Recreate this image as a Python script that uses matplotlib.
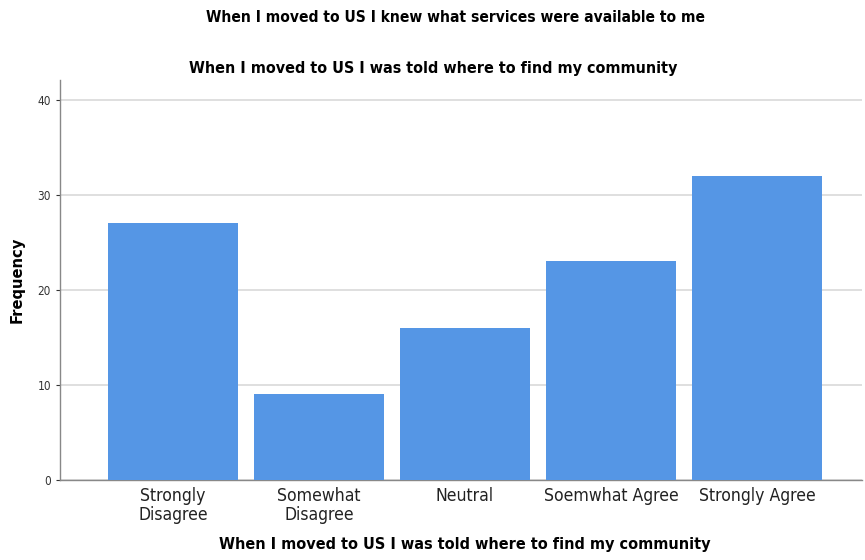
import matplotlib.pyplot as plt

categories = ['Strongly\nDisagree', 'Somewhat\nDisagree', 'Neutral', 'Soemwhat Agree', 'Strongly Agree']
frequency = [27, 9, 16, 23, 32]
yticks = [0, 10, 20, 30, 40]

plt.rcParams['font.family'] = ['DejaVu Sans']
plt.rcParams['font.stretch'] = 'condensed'

fig = plt.figure(figsize=(8.65, 5.6), dpi=100)
ax = fig.add_axes([60 / 865, 80 / 560, 802 / 865, 400 / 560])

x = list(range(len(categories)))
ax.bar(x, frequency, width=0.89, color='#5596e5', zorder=3)

ax.set_xlim(-0.774, 4.72)
ax.set_ylim(0, 42.1)
ax.set_yticks(yticks)
ax.set_xticks(x)
ax.set_xticklabels(categories, fontsize=12.6, color='#222222', linespacing=1.05)
ax.tick_params(axis='x', length=0, pad=5)
ax.tick_params(axis='y', labelsize=8.5, colors='#333333', length=3, width=0.8)
ax.yaxis.grid(True, color='#d9d9d9', linewidth=1.2, zorder=0)

for s in ['top', 'right']:
    ax.spines[s].set_visible(False)
for s in ['left', 'bottom']:
    ax.spines[s].set_color('#888888')
    ax.spines[s].set_linewidth(1)

ax.set_ylabel('Frequency', fontsize=11.8, fontweight='bold', va='center')
ax.yaxis.set_label_coords(-43 / 802, (480 - 280) / 400)
ax.set_xlabel('When I moved to US I was told where to find my community', fontsize=11.6, fontweight='bold', va='center')
ax.xaxis.set_label_coords((465 - 60) / 802, (480 - 545) / 400)

fig.text(455 / 865, 1 - 18 / 560, 'When I moved to US I knew what services were available to me',
         ha='center', va='center', fontsize=11.2, fontweight='bold')
fig.text(433 / 865, 1 - 68 / 560, 'When I moved to US I was told where to find my community',
         ha='center', va='center', fontsize=11.5, fontweight='bold')

plt.savefig('out.png')
